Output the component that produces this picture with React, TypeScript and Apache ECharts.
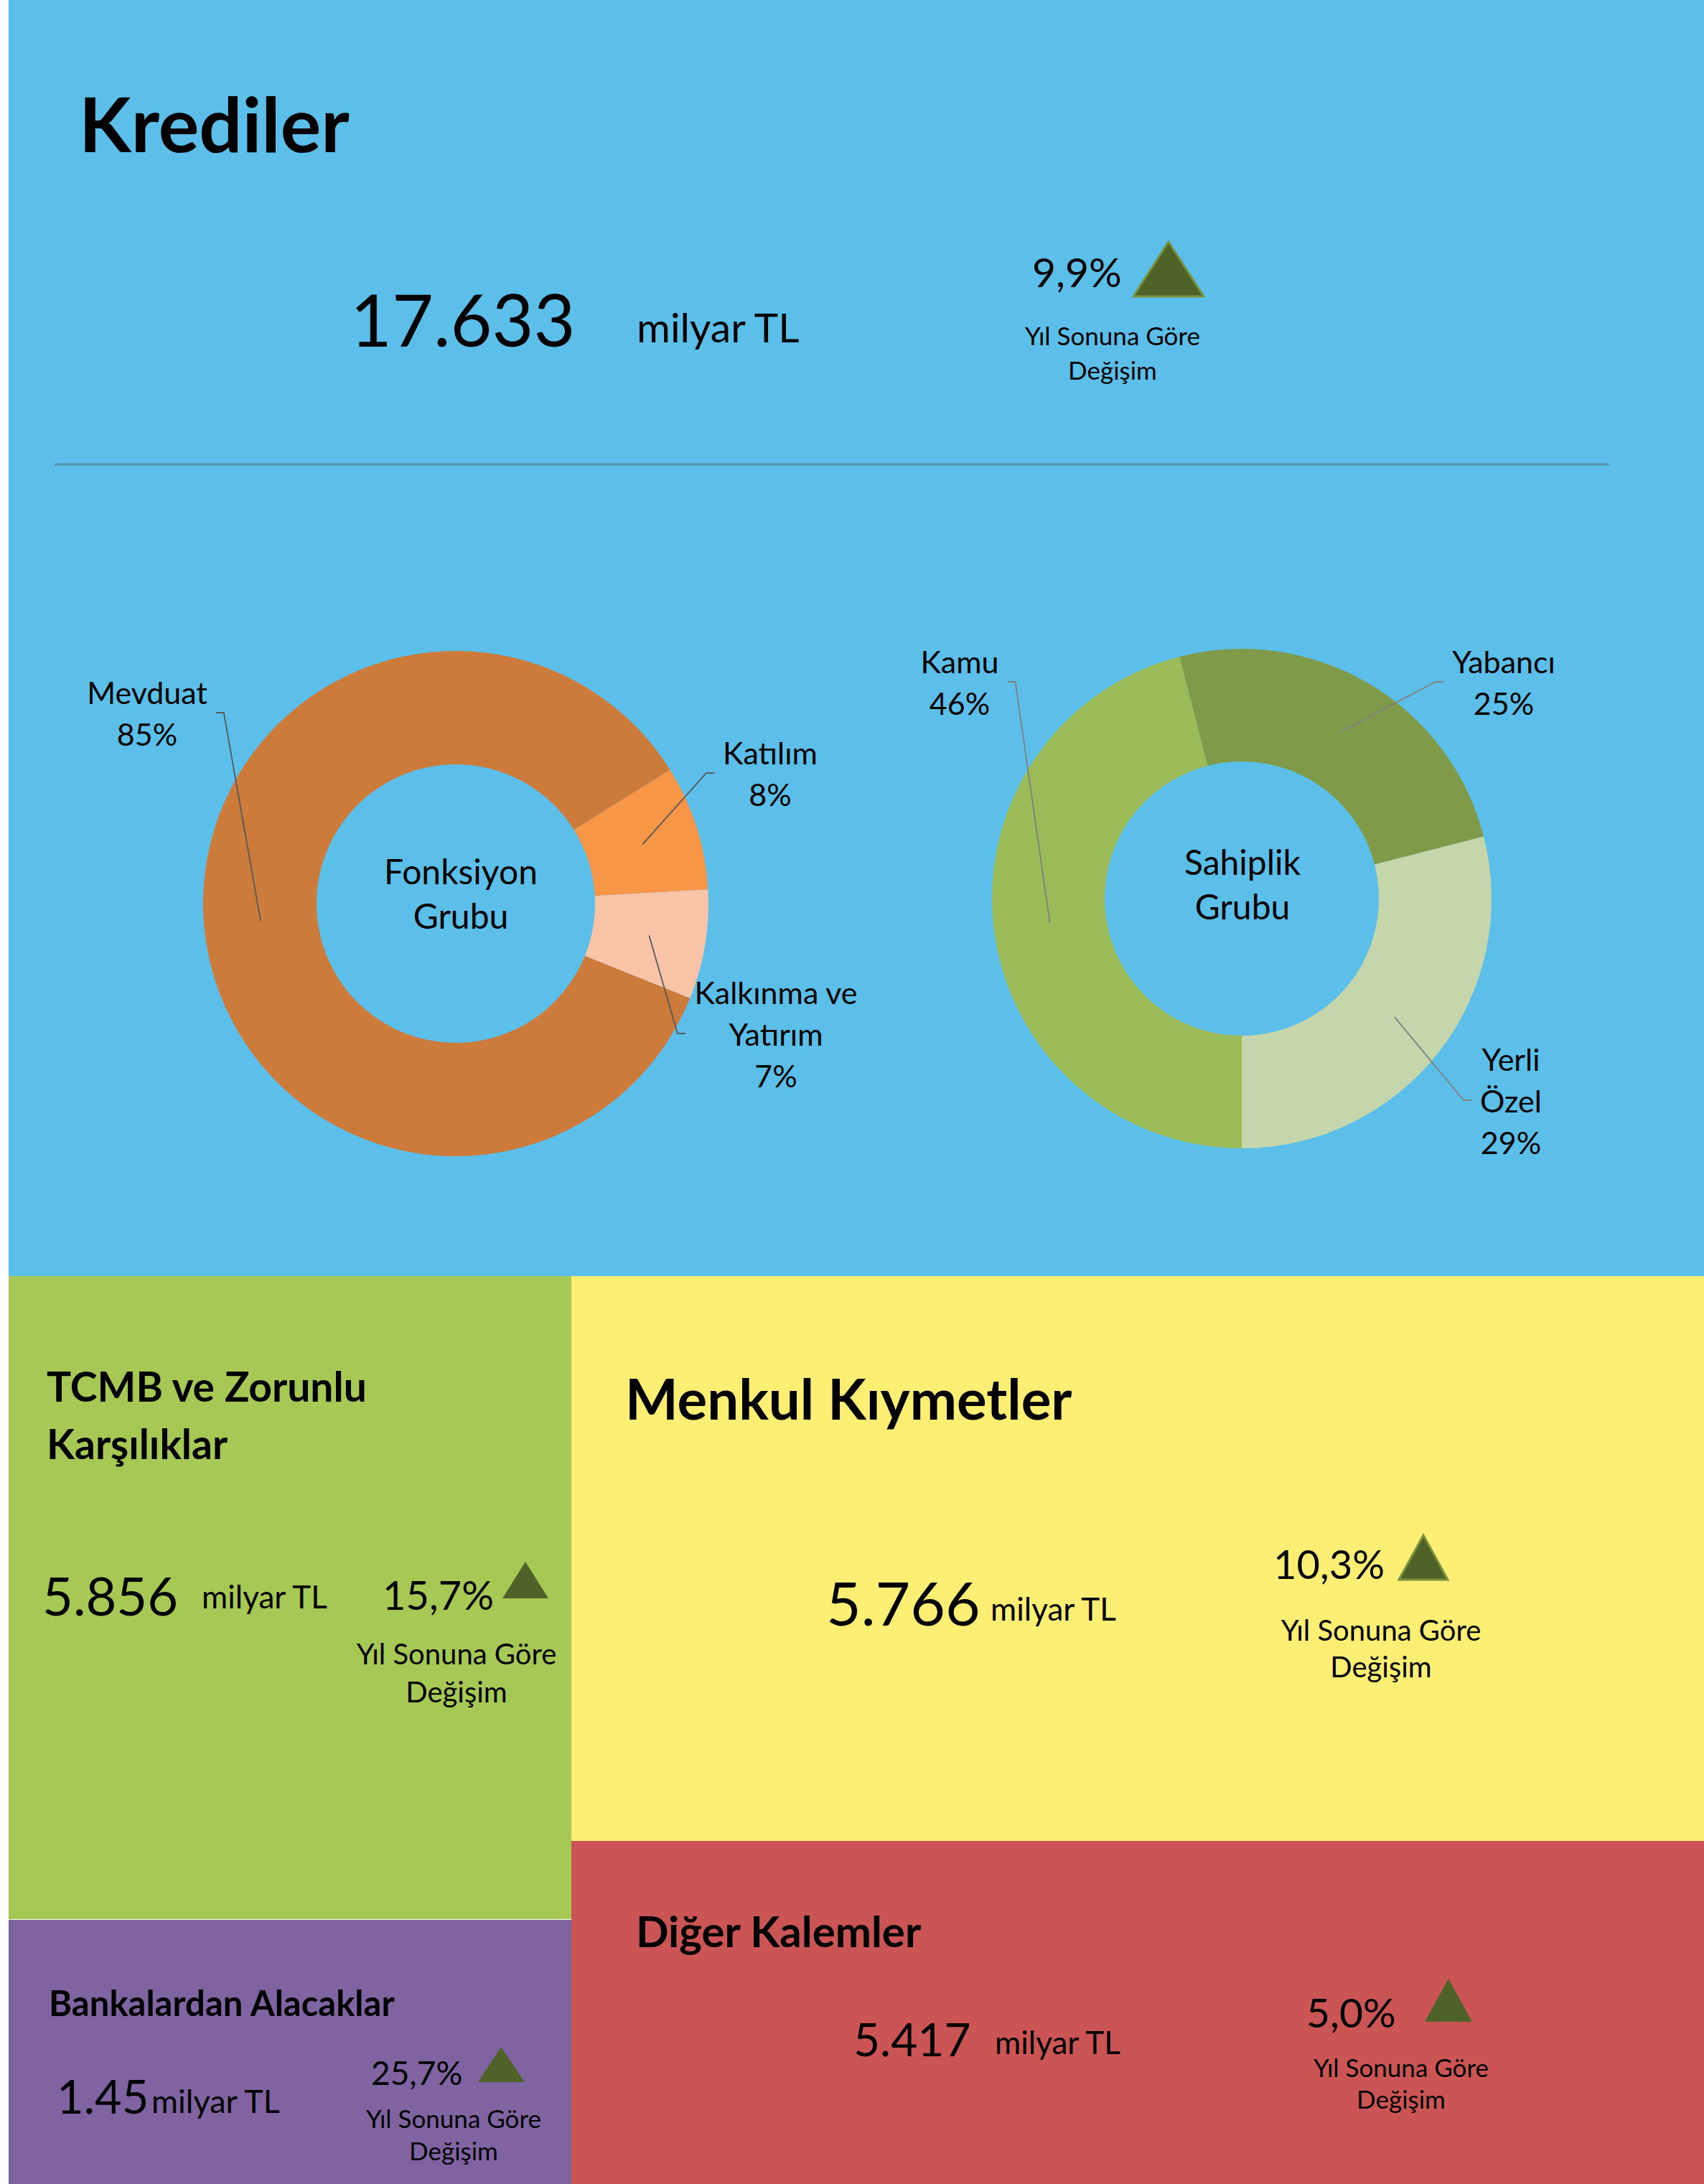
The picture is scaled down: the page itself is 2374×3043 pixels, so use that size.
import React, { useEffect, useRef } from 'react';
import * as echarts from 'echarts';

// ---------- DATA ----------
const fonksiyonCategories = ['Mevduat', 'Katılım', 'Kalkınma ve Yatırım'];
const fonksiyonValues = [85, 8, 7];
const sahiplikCategories = ['Kamu', 'Yabancı', 'Yerli Özel'];
const sahiplikValues = [46, 25, 29];

const panelTitles = ['Krediler', 'TCMB ve Zorunlu\nKarşılıklar', 'Menkul Kıymetler', 'Bankalardan Alacaklar', 'Diğer Kalemler'];
const panelAmounts = ['17.633', '5.856', '5.766', '1.45', '5.417'];
const panelUnits = ['milyar TL', 'milyar TL', 'milyar TL', 'milyar TL', 'milyar TL'];
const panelChanges = ['9,9%', '15,7%', '10,3%', '25,7%', '5,0%'];
const changeCaption = 'Yıl Sonuna Göre\nDeğişim';
const donutTitles = ['Fonksiyon\nGrubu', 'Sahiplik\nGrubu'];

// ---------- LAYOUT / STYLE ----------
const W = 2374;
const H = 3043;
const FONT = 'Lato';
const LABEL_SIZE = 43;
const LABEL_LH = 58;

const fonksiyonColors = ['#cd7b3a', '#f79646', '#f9c3a8'];
const sahiplikColors = ['#9bbb59', '#7f9b4a', '#c5d6ac'];

const rects = [
  { x: 12, y: 0, w: W - 12, h: 1778, c: '#5bbfe9' },
  { x: 12, y: 1778, w: 784, h: 896, c: '#a6c955' },
  { x: 796, y: 1778, w: W - 796, h: 787, c: '#fdee74' },
  { x: 12, y: 2675, w: 784, h: H - 2675, c: '#8064a2' },
  { x: 796, y: 2565, w: W - 796, h: H - 2565, c: '#cb5554' },
];

const panelLayout = [
  {
    title: { x: 110, y: 171, size: 106, lh: 110 },
    amount: { x: 488, y: 444, size: 100 },
    unit: { x: 887, y: 455, size: 57 },
    change: { x: 1438, y: 378, size: 57 },
    tri: { ax: 1628, ay: 337, by: 413, x0: 1579, x1: 1677, stroke: true },
    caption: { x: 1550, y: 491, size: 35, lh: 48 },
  },
  {
    title: { x: 65, y: 1971, size: 57, lh: 80 },
    amount: { x: 59, y: 2222, size: 74 },
    unit: { x: 281, y: 2224, size: 44 },
    change: { x: 533, y: 2221, size: 56 },
    tri: { ax: 732, ay: 2176, by: 2227, x0: 700, x1: 764, stroke: false },
    caption: { x: 636, y: 2330, size: 40, lh: 53 },
  },
  {
    title: { x: 871, y: 1948, size: 78, lh: 80 },
    amount: { x: 1151, y: 2232, size: 84 },
    unit: { x: 1380, y: 2241, size: 44 },
    change: { x: 1774, y: 2178, size: 56 },
    tri: { ax: 1983, ay: 2139, by: 2201, x0: 1949, x1: 2017, stroke: true },
    caption: { x: 1924, y: 2296, size: 40, lh: 51 },
  },
  {
    title: { x: 68, y: 2790, size: 49, lh: 50 },
    amount: { x: 79, y: 2920, size: 65 },
    unit: { x: 211, y: 2927, size: 45 },
    change: { x: 517, y: 2887, size: 46 },
    tri: { ax: 698, ay: 2852, by: 2901, x0: 666, x1: 731, stroke: false },
    caption: { x: 632, y: 2973, size: 35, lh: 45 },
  },
  {
    title: { x: 886, y: 2690, size: 60, lh: 60 },
    amount: { x: 1189, y: 2840, size: 64 },
    unit: { x: 1386, y: 2845, size: 44 },
    change: { x: 1820, y: 2803, size: 57 },
    tri: { ax: 2018, ay: 2757, by: 2817, x0: 1985, x1: 2051, stroke: false },
    caption: { x: 1952, y: 2902, size: 35, lh: 44 },
  },
];

const donut1 = {
  center: [635, 1259],
  radius: [194, 352],
  startAngle: 338,
  labelPos: [
    { x: 205, y: 993 },
    { x: 1073, y: 1077 },
    { x: 1081, y: 1440 },
  ],
  lineColor: '#595959',
  title: { x: 642, y: 1244 },
};
const donut2 = {
  center: [1730, 1252],
  radius: [191, 348],
  startAngle: 270,
  labelPos: [
    { x: 1337, y: 950 },
    { x: 2095, y: 950 },
    { x: 2105, y: 1533 },
  ],
  lineColor: '#808080',
  title: { x: 1731, y: 1231 },
};

function labelText(name: string, pct: number) {
  return name.replace(/ (?=\S+$)/, '\n') + '\n' + Math.round(pct) + '%';
}

let measureCtx: CanvasRenderingContext2D | null = null;
function textWidth(text: string, size: number) {
  if (!measureCtx) measureCtx = document.createElement('canvas').getContext('2d');
  if (!measureCtx) return text.length * size * 0.5;
  measureCtx.font = `${size}px ${FONT}`;
  return Math.max(...text.split('\n').map((l) => measureCtx!.measureText(l).width));
}

// leader lines (Excel style: from the middle of the ring to the side of the label)
function leaderLines(cats: string[], values: number[], cfg: any) {
  const total = values.reduce((a, b) => a + b, 0);
  let before = 0;
  return cats.map((name, i) => {
    const mid = ((cfg.startAngle - ((before + values[i] / 2) / total) * 360) * Math.PI) / 180;
    before += values[i];
    const rm = (cfg.radius[0] + cfg.radius[1]) / 2;
    const ax = cfg.center[0] + rm * Math.cos(mid);
    const ay = cfg.center[1] - rm * Math.sin(mid);
    const p = cfg.labelPos[i];
    const w = textWidth(labelText(name, (values[i] / total) * 100), LABEL_SIZE);
    const side = p.x > ax ? 1 : -1;
    const edgeX = p.x - side * (w / 2 + 12);
    const bendX = edgeX - side * 11;
    return {
      type: 'polyline',
      z: 8,
      shape: { points: [[ax, ay], [bendX, p.y], [edgeX, p.y]] },
      style: { stroke: cfg.lineColor, lineWidth: 1.8, fill: null },
    };
  });
}

function pieSeries(cats: string[], values: number[], colors: string[], cfg: any) {
  return {
    type: 'pie',
    center: cfg.center,
    radius: cfg.radius,
    startAngle: cfg.startAngle,
    clockwise: true,
    silent: true,
    avoidLabelOverlap: false,
    emphasis: { disabled: true },
    itemStyle: { borderWidth: 0 },
    data: cats.map((n, i) => ({ name: n, value: values[i], itemStyle: { color: colors[i] } })),
    label: {
      show: true,
      position: 'outside',
      fontFamily: FONT,
      fontSize: LABEL_SIZE,
      lineHeight: LABEL_LH,
      color: '#000',
      align: 'center',
      formatter: (p: any) => labelText(p.name, p.percent),
    },
    labelLine: { show: false },
    labelLayout: (params: any) => {
      const p = cfg.labelPos[params.dataIndex];
      return { x: p.x, y: p.y, align: 'center', verticalAlign: 'middle' };
    },
  };
}

function buildGraphics() {
  const els: any[] = [];
  rects.forEach((r) => {
    els.push({ type: 'rect', z: -10, shape: { x: r.x, y: r.y, width: r.w, height: r.h }, style: { fill: r.c } });
  });
  els.push({ type: 'line', z: 5, shape: { x1: 76, y1: 647, x2: 2242, y2: 647 }, style: { stroke: '#5f93ab', lineWidth: 3 } });

  const txt = (text: string, x: number, y: number, size: number, opts: any = {}) => ({
    type: 'text',
    z: 10,
    x,
    y,
    style: {
      text,
      fill: '#000',
      fontFamily: FONT,
      fontSize: size,
      fontWeight: opts.weight || 'normal',
      align: opts.align || 'left',
      verticalAlign: 'middle',
      lineHeight: opts.lh || size * 1.2,
    },
  });

  panelLayout.forEach((L, i) => {
    els.push(txt(panelTitles[i], L.title.x, L.title.y, L.title.size, { weight: 'bold', lh: L.title.lh }));
    els.push(txt(panelAmounts[i], L.amount.x, L.amount.y, L.amount.size));
    els.push(txt(panelUnits[i], L.unit.x, L.unit.y, L.unit.size));
    els.push(txt(panelChanges[i], L.change.x, L.change.y, L.change.size));
    els.push(txt(changeCaption, L.caption.x, L.caption.y, L.caption.size, { align: 'center', lh: L.caption.lh }));
    const t = L.tri;
    els.push({
      type: 'polygon',
      z: 10,
      shape: { points: [[t.ax, t.ay], [t.x1, t.by], [t.x0, t.by]] },
      style: { fill: '#4f6228', stroke: t.stroke ? '#7a913e' : null, lineWidth: t.stroke ? 3 : 0 },
    });
  });

  [donut1, donut2].forEach((d, i) => {
    els.push(txt(donutTitles[i], d.title.x, d.title.y, 48, { align: 'center', lh: 62 }));
  });

  els.push(...leaderLines(fonksiyonCategories, fonksiyonValues, donut1));
  els.push(...leaderLines(sahiplikCategories, sahiplikValues, donut2));
  return els;
}

export default function App() {
  const ref = useRef<HTMLDivElement>(null);
  useEffect(() => {
    if (!ref.current) return;
    const chart = echarts.init(ref.current, null, { renderer: 'svg', width: W, height: H });
    chart.setOption({
      animation: false,
      backgroundColor: '#ffffff',
      graphic: { elements: buildGraphics() },
      series: [
        pieSeries(fonksiyonCategories, fonksiyonValues, fonksiyonColors, donut1),
        pieSeries(sahiplikCategories, sahiplikValues, sahiplikColors, donut2),
      ],
    });
    return () => chart.dispose();
  }, []);
  return <div ref={ref} style={{ position: 'absolute', left: 0, top: 0, width: W, height: H }} />;
}
